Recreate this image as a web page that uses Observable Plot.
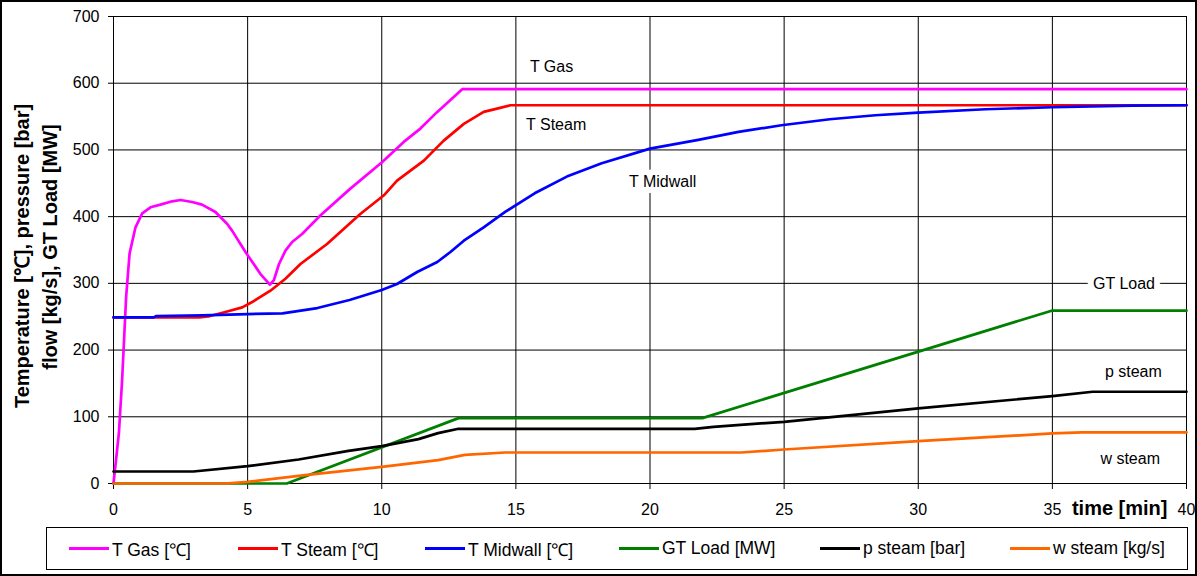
<!DOCTYPE html>
<html><head><meta charset="utf-8">
<script src="https://cdn.jsdelivr.net/npm/d3@7"></script>
<script src="https://cdn.jsdelivr.net/npm/@observablehq/plot@0.6"></script>
<style>
html,body{margin:0;padding:0;background:#fff;}
#wrap{position:relative;width:1197px;height:576px;overflow:hidden;font-family:"Liberation Sans",Arial,sans-serif;color:#000;}
#border{position:absolute;left:0;top:0;width:1197px;height:576px;box-sizing:border-box;border:2px solid #000;pointer-events:none;}
#legend{position:absolute;left:46px;top:527px;width:1142px;height:43px;box-sizing:border-box;border:1px solid #000;font-size:17.5px;}
.item{position:absolute;top:0;height:41px;display:flex;align-items:center;white-space:nowrap;}
.sw{display:inline-block;width:40px;height:3px;margin-right:3px;}
</style></head><body>
<div id="wrap"><div id="chart"></div><div id="legend"></div><div id="border"></div></div>
<script>
// ---- data ----
const seriesNames = ["T Gas", "T Steam", "T Midwall", "GT Load", "p steam", "w steam"];
const legendLabels = ["T Gas [℃]", "T Steam [℃]", "T Midwall [℃]", "GT Load [MW]", "p steam [bar]", "w steam [kg/s]"];
const seriesColors = ["#ff00ff", "#ff0000", "#0000ff", "#008000", "#000000", "#ff6600"];

const tGasTime  = [0, 0.2, 0.32, 0.47, 0.6, 0.82, 1.07, 1.38, 1.75, 2.19, 2.5, 2.93, 3.3, 3.8, 4.24, 4.42, 4.92, 5.48, 5.83, 5.98, 6.17, 6.41, 6.66, 7.03, 7.72, 8.83, 10.02, 10.82, 11.44, 12.07, 13.0, 40];
const tGasValue = [0, 75, 154, 279, 345, 384, 405, 414, 418, 423, 425, 422, 418, 407, 389, 379, 347, 314, 298, 305, 329, 349, 362, 374, 402, 442, 482, 512, 532, 557, 591, 591];

const tSteamTime  = [0, 3.2, 3.6, 4.17, 4.8, 5.17, 5.85, 6.41, 6.97, 7.96, 9.2, 10.08, 10.57, 11.57, 12.31, 13.06, 13.8, 14.3, 14.8, 40];
const tSteamValue = [249, 249, 251, 257, 264, 272, 289, 307, 329, 359, 404, 432, 454, 484, 514, 539, 557, 562, 567, 567];

const tMidTime  = [0, 1.5, 1.6, 3.3, 5, 6.3, 7.6, 8.8, 10, 10.57, 11.07, 11.32, 12.07, 12.56, 13.06, 13.8, 14.6, 15.7, 16.9, 18.2, 20, 21.8, 23.3, 24.9, 26.7, 28.4, 30, 32.5, 35, 36, 38, 40];
const tMidValue = [249, 249, 251, 252, 254, 255, 263, 275, 290, 299, 311, 317, 332, 347, 364, 384, 407, 435, 460, 480, 502, 515, 527, 537, 546, 552, 556, 561, 564, 565, 566.5, 567];

const gtLoadTime  = [0, 6.46, 12.86, 21.95, 34.97, 40];
const gtLoadValue = [0, 0, 98, 98, 259, 259];

const pSteamTime  = [0, 2.98, 5, 6.9, 8.76, 10, 11.37, 12.1, 12.86, 21.67, 22.37, 25, 30, 35, 36.5, 40];
const pSteamValue = [18, 18, 26, 36, 49, 56, 66.5, 75.5, 82, 82, 85, 92.5, 112.5, 131, 137.5, 137.5];

const wSteamTime  = [0, 4.16, 5, 7.14, 10, 12.1, 13.1, 14.6, 23.4, 25, 30, 35, 36.1, 40];
const wSteamValue = [0, 0, 2.5, 12.6, 25, 35, 43, 46.5, 46.5, 51, 63.5, 75, 76.5, 76.5];

const xTicks = [0, 5, 10, 15, 20, 25, 30, 35, 40];
const yTicks = [0, 100, 200, 300, 400, 500, 600, 700];

const labelText  = ["T Gas", "T Steam", "T Midwall", "GT Load", "p steam", "w steam"];
const labelTime  = [16.33, 16.5, 20.47, 37.67, 38.02, 37.9];
const labelValue = [624, 538, 452, 299.5, 168, 37.5];
const labelBoxed = [false, false, true, true, false, false];

const xTitle = "time [min]";
const yTitle1 = "Temperature [℃], pressure [bar]";
const yTitle2 = "flow [kg/s], GT Load [MW]";

// ---- build table ----
const allTimes = [tGasTime, tSteamTime, tMidTime, gtLoadTime, pSteamTime, wSteamTime];
const allValues = [tGasValue, tSteamValue, tMidValue, gtLoadValue, pSteamValue, wSteamValue];
const rows = [];
seriesNames.forEach((s, k) => {
  allTimes[k].forEach((t, i) => rows.push({series: s, t, v: allValues[k][i]}));
});
const labels = labelText.map((text, i) => ({text, t: labelTime[i], v: labelValue[i], boxed: labelBoxed[i]}));

const chart = Plot.plot({
  width: 1197,
  height: 520,
  marginLeft: 113,
  marginTop: 16,
  marginRight: 11,
  marginBottom: 37,
  style: {fontFamily: '"Liberation Sans", Arial, sans-serif', fontSize: "16px", color: "#000", background: "#fff"},
  x: {domain: [0, 40], label: null},
  y: {domain: [0, 700], label: null},
  color: {domain: seriesNames, range: seriesColors},
  marks: [
    Plot.gridX(xTicks, {stroke: "#000", strokeOpacity: 1, strokeWidth: 1}),
    Plot.gridY(yTicks, {stroke: "#000", strokeOpacity: 1, strokeWidth: 1}),
    Plot.frame({stroke: "#000", strokeWidth: 1}),
    Plot.axisX({ticks: xTicks, tickSize: 6, tickPadding: 14, label: null, fontSize: 16}),
    Plot.axisY({ticks: yTicks, tickSize: 5, tickPadding: 9, label: null, fontSize: 16}),
    Plot.line(rows, {x: "t", y: "v", z: "series", stroke: "series", strokeWidth: 2.7, strokeLinejoin: "round"}),
    Plot.text(labels.filter(d => d.boxed), {x: "t", y: "v", text: "text", fontSize: 16, fill: "#000", stroke: "#fff", strokeWidth: 12, textAnchor: "middle", lineAnchor: "middle"}),
    Plot.text(labels.filter(d => !d.boxed), {x: "t", y: "v", text: "text", fontSize: 16, fill: "#000", textAnchor: "middle", lineAnchor: "middle"}),
    Plot.text([xTitle], {frameAnchor: "bottom-right", text: d => d, textAnchor: "end", lineAnchor: "middle", dx: -19, dy: 25, fontWeight: "bold", fontSize: 20, fill: "#000"}),
    Plot.text([yTitle1], {frameAnchor: "left", text: d => d, rotate: -90, textAnchor: "middle", lineAnchor: "middle", dx: -91, dy: 6, fontWeight: "bold", fontSize: 20, fill: "#000"}),
    Plot.text([yTitle2], {frameAnchor: "left", text: d => d, rotate: -90, textAnchor: "middle", lineAnchor: "middle", dx: -63, dy: -3, fontWeight: "bold", fontSize: 20, fill: "#000"})
  ]
});
document.getElementById("chart").appendChild(chart);

// ---- legend ----
const legend = document.getElementById("legend");
const legendOffsets = [22, 191, 378, 572, 773, 963];
seriesNames.forEach((s, i) => {
  const item = document.createElement("div");
  item.className = "item";
  item.style.left = legendOffsets[i] + "px";
  const sw = document.createElement("span");
  sw.className = "sw";
  sw.style.background = seriesColors[i];
  const tx = document.createElement("span");
  tx.textContent = legendLabels[i];
  item.appendChild(sw);
  item.appendChild(tx);
  legend.appendChild(item);
});
</script>
</body></html>
